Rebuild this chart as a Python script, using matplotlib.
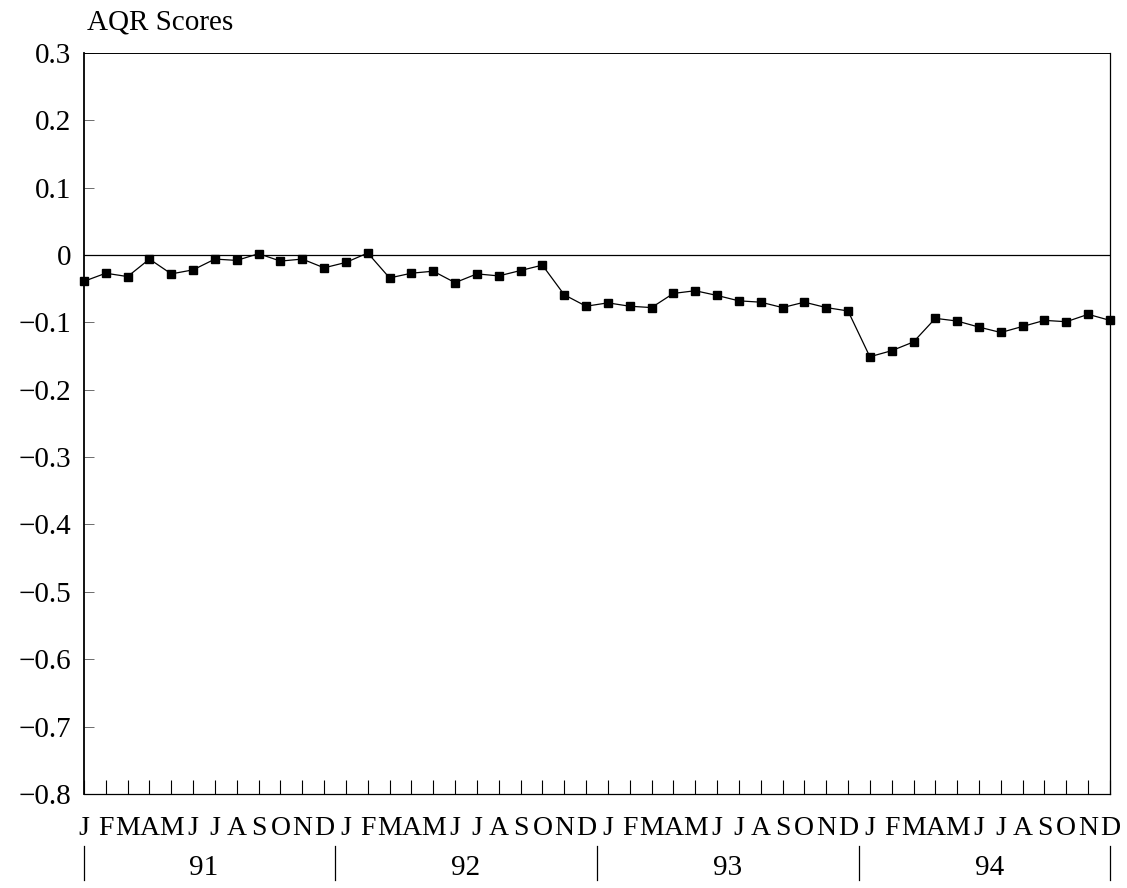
import matplotlib
matplotlib.use("Agg")
import matplotlib.pyplot as plt
import matplotlib.transforms as mtransforms

plt.rcParams['font.family'] = 'Liberation Serif'
plt.rcParams['axes.unicode_minus'] = True

# monthly AQR scores, Jan 91 .. Dec 94
scores_91 = [-0.039, -0.027, -0.032, -0.006, -0.028, -0.022,
             -0.006, -0.008, 0.002, -0.009, -0.006, -0.019]
scores_92 = [-0.011, 0.003, -0.034, -0.027, -0.024, -0.041,
             -0.028, -0.031, -0.023, -0.015, -0.059, -0.076]
scores_93 = [-0.071, -0.076, -0.078, -0.057, -0.053, -0.060,
             -0.068, -0.070, -0.078, -0.070, -0.078, -0.083]
scores_94 = [-0.151, -0.142, -0.129, -0.094, -0.098, -0.107,
             -0.115, -0.106, -0.097, -0.099, -0.088, -0.097]
scores = scores_91 + scores_92 + scores_93 + scores_94

month_letters = ['J', 'F', 'M', 'A', 'M', 'J', 'J', 'A', 'S', 'O', 'N', 'D']
years = ['91', '92', '93', '94']
y_ticks = [0.3, 0.2, 0.1, 0, -0.1, -0.2, -0.3, -0.4, -0.5, -0.6, -0.7, -0.8]
y_ticklabels = ['0.3', '0.2', '0.1', '0', '\u22120.1', '\u22120.2', '\u22120.3',
                '\u22120.4', '\u22120.5', '\u22120.6', '\u22120.7', '\u22120.8']

fig = plt.figure(figsize=(11.27, 8.88), dpi=100)
ax = fig.add_axes([0.0745, 0.1059, 0.9104, 0.8345])

x = list(range(len(scores)))
ax.axhline(0, color='black', linewidth=0.9)
ax.plot(x, scores, color='black', linewidth=0.9, marker='s', markersize=5.5,
        markerfacecolor='black', markeredgecolor='black', clip_on=False, zorder=3)

ax.set_xlim(0, len(scores) - 1)
ax.set_ylim(-0.8, 0.3)
ax.set_yticks(y_ticks)
ax.set_yticklabels(y_ticklabels, fontsize=21)
ax.tick_params(axis='y', direction='in', length=7, width=0.6, pad=9, color='#555555')

ax.set_xticks(x)
ax.set_xticklabels(month_letters * len(years), fontsize=20)
ax.tick_params(axis='x', direction='in', length=10, width=0.8, pad=16)

for s in ax.spines.values():
    s.set_linewidth(0.9)
ax.spines['left'].set_linewidth(1.3)
ax.spines['top'].set_linewidth(0.7)

# year labels and separators below the month letters
trans = mtransforms.blended_transform_factory(ax.transData, ax.transAxes)
for i, yr in enumerate(years):
    ax.text(i * 12 + 5.5, -0.100, yr, transform=trans, ha='center', va='center',
            fontsize=21)
for xs in [0, 11.5, 23.5, 35.5, 47]:
    ax.plot([xs, xs], [-0.070, -0.116], transform=trans, color='black',
            linewidth=0.9, clip_on=False)

fig.text(0.077, 0.975, 'AQR Scores', ha='left', va='center', fontsize=21)

fig.savefig('out.png', dpi=100)
